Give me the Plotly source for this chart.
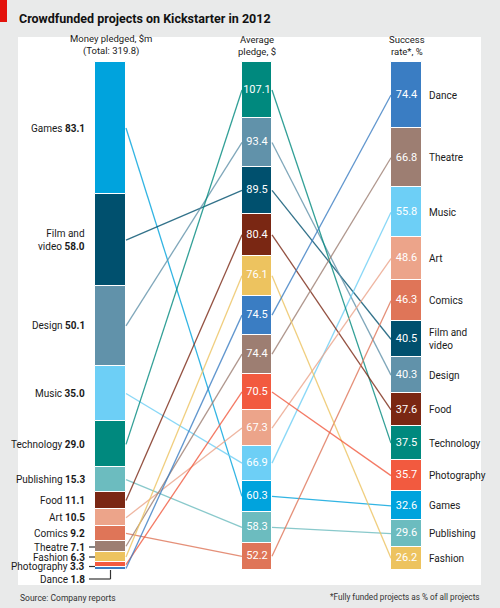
import plotly.graph_objects as go

# ---------------- data ----------------
categories = ["Games", "Film and video", "Design", "Music", "Technology", "Publishing",
              "Food", "Art", "Comics", "Theatre", "Fashion", "Photography", "Dance"]
money_pledged = [83.1, 58.0, 50.1, 35.0, 29.0, 15.3, 11.1, 10.5, 9.2, 7.1, 6.3, 3.3, 1.8]
avg_pledge = [60.3, 89.5, 93.4, 66.9, 107.1, 58.3, 80.4, 67.3, 52.2, 74.4, 76.1, 70.5, 74.5]
success_rate = [32.6, 40.5, 40.3, 55.8, 37.5, 29.6, 37.6, 48.6, 46.3, 66.8, 26.2, 35.7, 74.4]
column_titles = ["Money pledged, $m<br>(Total: 319.8)", "Average<br>pledge, $", "Success<br>rate*, %"]

# ---------------- styles ----------------
colors = {
    "Games": "#00a3dd", "Film and video": "#00506e", "Design": "#6192aa", "Music": "#6dcff6",
    "Technology": "#00897e", "Publishing": "#6cbcbf", "Food": "#7a2713", "Art": "#eca48a",
    "Comics": "#df7558", "Theatre": "#9d7e72", "Fashion": "#edc35f", "Photography": "#f25a3f",
    "Dance": "#3a7dc3",
}
FONT = "Roboto, Arial, sans-serif"
W, H = 500, 608
TOP_PX, BOT_PX = 62, 570
SPAN = BOT_PX - TOP_PX


def py(p):
    """pixel row -> data y (fraction of column)"""
    return (BOT_PX - p) / SPAN


cols = [  # center x, width
    (110.5, 31),
    (257.0, 30),
    (406.5, 31),
]
series = [money_pledged, avg_pledge, success_rate]


def layout_column(vals):
    total = sum(vals)
    order = sorted(range(len(vals)), key=lambda i: -vals[i])
    bases, heights, centers = [0] * len(vals), [0] * len(vals), [0] * len(vals)
    top = 1.0
    for i in order:
        h = vals[i] / total
        bases[i] = top - h
        heights[i] = h
        centers[i] = top - h / 2
        top -= h
    return bases, heights, centers


col_geo = [layout_column(v) for v in series]

fig = go.Figure()

# connecting lines
for k, cat in enumerate(categories):
    cL = col_geo[0][2][k]
    cM = col_geo[1][2][k]
    cR = col_geo[2][2][k]
    xs = [cols[0][0] + cols[0][1] / 2, cols[1][0] - cols[1][1] / 2, None,
          cols[1][0] + cols[1][1] / 2, cols[2][0] - cols[2][1] / 2]
    ys = [cL, cM, None, cM, cR]
    fig.add_trace(go.Scatter(x=xs, y=ys, mode="lines",
                             line=dict(color=colors[cat], width=1.3),
                             opacity=0.8, hoverinfo="skip", showlegend=False))

# stacked columns
for (cx, w), (bases, heights, centers) in zip(cols, col_geo):
    fig.add_trace(go.Bar(x=[cx] * len(categories), y=heights, base=bases,
                         width=[w] * len(categories),
                         marker=dict(color=[colors[c] for c in categories],
                                     line=dict(color="white", width=1)),
                         hoverinfo="skip", showlegend=False))

# values inside middle and right columns
for ci in (1, 2):
    cx = cols[ci][0]
    fig.add_trace(go.Scatter(x=[cx] * len(categories), y=col_geo[ci][2], mode="text",
                             text=[f"{v:.1f}" for v in series[ci]],
                             textfont=dict(family=FONT, size=11, color="white"),
                             hoverinfo="skip", showlegend=False))

annotations = []
shapes = []

# left labels
label_px_override = {"Theatre": 547, "Fashion": 557, "Photography": 566.5, "Dance": 579}
leader = {"Theatre", "Fashion", "Photography"}
left_edge = cols[0][0] - cols[0][1] / 2
for k, cat in enumerate(categories):
    name = cat.replace("Film and video", "Film and<br>video")
    y = col_geo[0][2][k]
    if cat in label_px_override:
        y = py(label_px_override[cat])
    annotations.append(dict(x=87, y=y, xref="x", yref="y", xanchor="right", yanchor="middle",
                            align="right", showarrow=False,
                            text=f"{name} <b>{money_pledged[k]:.1f}</b>",
                            font=dict(family=FONT, size=10, color="#1a1a1a")))
    if cat in leader:
        shapes.append(dict(type="line", x0=89, x1=left_edge, y0=y, y1=y, xref="x", yref="y",
                           line=dict(color="#333", width=1.2)))
    if cat == "Dance":
        shapes.append(dict(type="line", x0=89, x1=cols[0][0], y0=y, y1=y, xref="x", yref="y",
                           line=dict(color="#333", width=1.2)))
        shapes.append(dict(type="line", x0=cols[0][0], x1=cols[0][0], y0=y, y1=0,
                           xref="x", yref="y", line=dict(color="#333", width=1.2)))

# right labels
for k, cat in enumerate(categories):
    name = cat.replace("Film and video", "Film and<br>video")
    annotations.append(dict(x=cols[2][0] + cols[2][1] / 2 + 5, y=col_geo[2][2][k],
                            xref="x", yref="y", xanchor="left", yanchor="middle",
                            align="left", showarrow=False, text=name,
                            font=dict(family=FONT, size=10, color="#1a1a1a")))

# column headers
for (cx, w), t in zip(cols, column_titles):
    annotations.append(dict(x=cx, y=py(59), xref="x", yref="y", xanchor="center",
                            yanchor="bottom", align="center", showarrow=False, text=t,
                            font=dict(family=FONT, size=9.5, color="#1a1a1a")))

# title & footers
annotations.append(dict(x=17, y=py(18), xref="x", yref="y", xanchor="left", yanchor="middle",
                        showarrow=False, text="<b>Crowdfunded projects on Kickstarter in 2012</b>",
                        font=dict(family=FONT, size=12.5, color="#111")))
annotations.append(dict(x=18, y=py(598), xref="x", yref="y", xanchor="left", yanchor="middle",
                        showarrow=False, text="Source: Company reports",
                        font=dict(family=FONT, size=8.5, color="#333")))
annotations.append(dict(x=482, y=py(597), xref="x", yref="y", xanchor="right", yanchor="middle",
                        showarrow=False, text="*Fully funded projects as % of all projects",
                        font=dict(family=FONT, size=8.2, color="#333")))

# panel and red tab
shapes.insert(0, dict(type="rect", x0=18, x1=481, y0=py(585), y1=py(37), xref="x", yref="y",
                      fillcolor="white", line=dict(width=0), layer="below"))
shapes.append(dict(type="rect", x0=0, x1=7, y0=py(22), y1=py(0), xref="x", yref="y",
                   fillcolor="#e3120b", line=dict(width=0)))

fig.update_layout(
    width=W, height=H, margin=dict(l=0, r=0, t=0, b=0),
    paper_bgcolor="#e9eaea", plot_bgcolor="#e9eaea",
    barmode="overlay", bargap=0,
    xaxis=dict(range=[0, W], visible=False, fixedrange=True),
    yaxis=dict(range=[py(H), py(0)], visible=False, fixedrange=True),
    annotations=annotations, shapes=shapes,
)

fig.write_html("out.html", config={"displayModeBar": False},
               post_script="document.body.style.margin='0';document.body.style.overflow='hidden';")
